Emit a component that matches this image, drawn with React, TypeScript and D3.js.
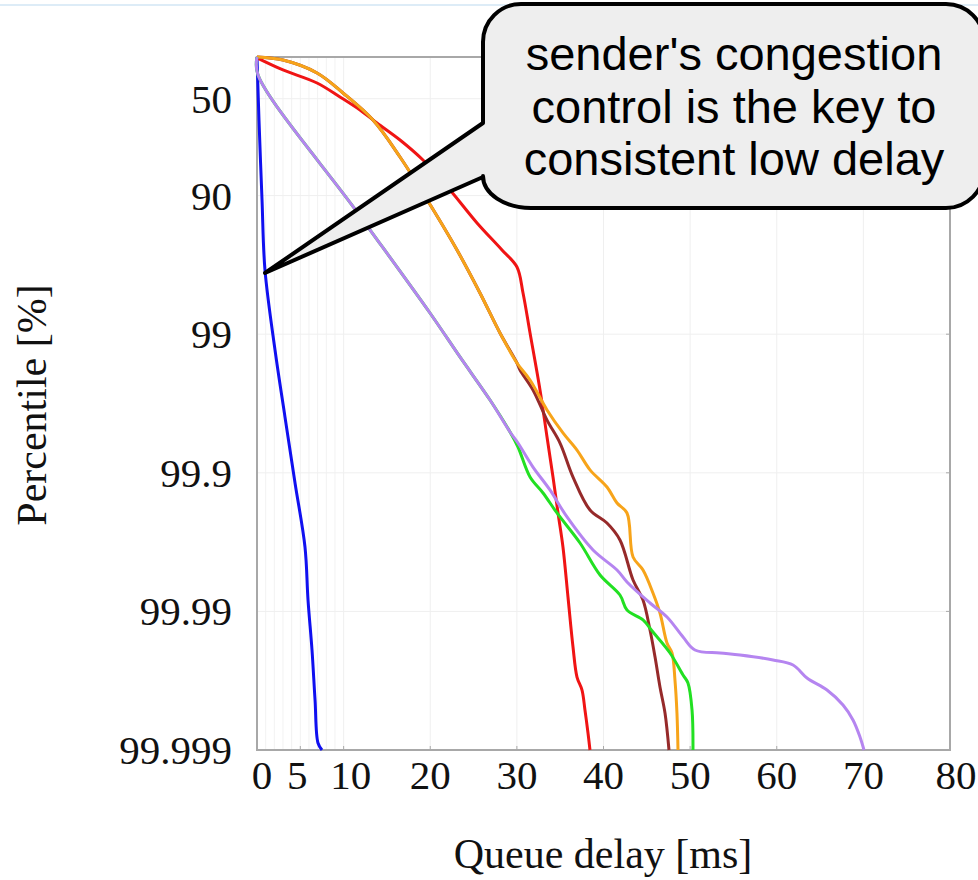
import React, { useEffect, useRef } from "react";
import * as d3 from "d3";

const W = 978;
const H = 880;

// axis ticks
const delayTicks = [0, 5, 10, 20, 30, 40, 50, 60, 70, 80];
const delayGridMajor = [10, 20, 30, 40, 50, 60, 70];
const delayGridMinor = [1, 2, 3, 4, 5, 6, 7, 8, 9];
const percentileTicks = [50, 90, 99, 99.9, 99.99, 99.999];
const percentileLabels = ["50", "90", "99", "99.9", "99.99", "99.999"];

// series: [queue delay ms, percentile %]
const blueSeries: [number, number][] = [
  [0, 0], [0.23, 64.9], [0.58, 90.7], [0.92, 97.09], [2.08, 99.231], [3.23, 99.747],
  [4.39, 99.9156], [5.54, 99.97085], [5.89, 99.98792], [6.35, 99.994734],
  [6.7, 99.997704], [7.04, 99.998877], [7.5, 99.999],
];
const redSeries: [number, number][] = [
  [0, 1.5], [3.0, 19.4], [6.93, 35.05], [9.58, 48.56], [11.89, 58.55], [13.85, 66.59],
  [16.51, 74.81], [19.16, 81.94], [22.28, 89.03], [25.4, 93.657], [28.28, 95.95],
  [30.01, 96.947], [30.71, 98.017], [31.52, 98.98], [32.67, 99.604], [33.48, 99.8187],
  [34.17, 99.9068], [34.75, 99.9487], [35.32, 99.97085], [35.9, 99.9873],
  [36.48, 99.994465], [36.94, 99.996638], [37.52, 99.997291], [37.86, 99.998056],
  [38.21, 99.998673], [38.44, 99.999],
];
const brownSeries: [number, number][] = [
  [0, 0], [3.0, 4.9], [6.93, 23.3], [9.93, 45.0], [13.39, 64.9], [16.51, 81.01],
  [19.16, 89.56], [23.09, 95.95], [25.74, 98.017], [28.05, 98.98], [30.01, 99.38],
  [30.36, 99.448], [31.86, 99.604], [33.48, 99.76], [34.98, 99.836], [36.48, 99.9068],
  [38.44, 99.94609], [40.4, 99.95657], [41.9, 99.96725], [43.41, 99.98315],
  [44.56, 99.98792], [45.37, 99.992658], [45.95, 99.995312], [46.52, 99.997153],
  [47.1, 99.998151], [47.56, 99.999],
];
const orangeSeries: [number, number][] = [
  [0, 0], [3.0, 4.9], [6.93, 23.3], [9.93, 45.0], [13.39, 64.9], [16.51, 81.01],
  [19.16, 89.56], [23.09, 95.95], [25.74, 98.017], [28.05, 98.98], [30.01, 99.38],
  [31.52, 99.533], [33.48, 99.716], [35.32, 99.806], [36.94, 99.854], [38.44, 99.895],
  [40.4, 99.921], [41.56, 99.93946], [42.71, 99.9487], [43.41, 99.97531],
  [44.56, 99.98011], [45.71, 99.98642], [46.52, 99.990261], [47.33, 99.994084],
  [47.91, 99.994989], [48.25, 99.996801], [48.48, 99.998151], [48.6, 99.999],
];
const greenSeries: [number, number][] = [
  [0, 0], [0.12, 25.9], [11.6, 92.45], [19.97, 98.578], [23.43, 99.315], [26.9, 99.665],
  [29.21, 99.803], [30.13, 99.8465], [31.52, 99.9068], [33.02, 99.92852],
  [34.63, 99.9487], [37.29, 99.96885], [39.6, 99.98169], [41.9, 99.98687],
  [42.71, 99.98977], [44.56, 99.99133], [45.71, 99.992899], [47.68, 99.994989],
  [49.18, 99.996524], [49.75, 99.996955], [50.22, 99.998056], [50.33, 99.999],
];
const purpleSeries: [number, number][] = [
  [0, 0], [0.12, 25.9], [11.6, 92.45], [19.97, 98.578], [23.43, 99.315], [26.9, 99.665],
  [29.21, 99.803], [30.13, 99.836], [31.86, 99.89], [33.82, 99.9248], [35.79, 99.952],
  [38.79, 99.97227], [41.56, 99.98011], [42.71, 99.9837], [45.37, 99.988503],
  [47.33, 99.990888], [49.18, 99.993464], [50.56, 99.994734], [53.45, 99.994989],
  [55.76, 99.995154], [59.57, 99.995539], [61.88, 99.995895], [63.49, 99.996693],
  [65.8, 99.997291], [67.65, 99.997888], [68.8, 99.998354], [69.61, 99.998759],
  [70.07, 99.999],
];

const seriesList = [
  { name: "blue", data: blueSeries, color: "#1010f0" },
  { name: "red", data: redSeries, color: "#f01414" },
  { name: "brown", data: brownSeries, color: "#962a2a" },
  { name: "orange", data: orangeSeries, color: "#f7a41a" },
  { name: "green", data: greenSeries, color: "#22e022" },
  { name: "purple", data: purpleSeries, color: "#b585f0" },
];

const calloutLines = ["sender's congestion", "control is the key to", "consistent low delay"];

const yLabel = "Percentile [%]";
const xLabel = "Queue delay [ms]";

const SERIF = "'Liberation Serif', 'Times New Roman', serif";
const SANS = "'Liberation Sans', Arial, sans-serif";

export default function App() {
  const ref = useRef<SVGSVGElement>(null);

  useEffect(() => {
    const svg = d3.select(ref.current);
    svg.selectAll("*").remove();

    const left = 257, right = 950, top = 57, bottom = 750;
    const x = d3.scaleLinear().domain([0, 80]).range([left, right]);
    const y = d3.scaleLog().domain([100, 0.001]).range([top, bottom]);
    const yp = (p: number) => y(100 - p);

    svg.append("rect").attr("width", W).attr("height", H).attr("fill", "#fff");

    // slide header remnant line
    svg.append("line").attr("x1", 0).attr("x2", W).attr("y1", 5).attr("y2", 5)
      .attr("stroke", "#d2e6f4").attr("stroke-width", 1.5);

    const grid = svg.append("g");
    grid.selectAll("line.minor").data(delayGridMinor).join("line")
      .attr("x1", (d) => x(d)).attr("x2", (d) => x(d)).attr("y1", top).attr("y2", bottom)
      .attr("stroke", "#f2f2f2").attr("stroke-width", 1);
    grid.selectAll("line.major").data(delayGridMajor).join("line")
      .attr("x1", (d) => x(d)).attr("x2", (d) => x(d)).attr("y1", top).attr("y2", bottom)
      .attr("stroke", "#efefef").attr("stroke-width", 1);
    grid.selectAll("line.h").data(percentileTicks.slice(0, -1)).join("line")
      .attr("x1", left).attr("x2", right).attr("y1", (d) => yp(d)).attr("y2", (d) => yp(d))
      .attr("stroke", "#efefef").attr("stroke-width", 1);

    // ticks
    const tk = svg.append("g").attr("stroke", "#aaa").attr("stroke-width", 1);
    tk.selectAll("line.xt").data(delayTicks).join("line")
      .attr("x1", (d) => x(d)).attr("x2", (d) => x(d)).attr("y1", bottom).attr("y2", bottom - 4);
    tk.selectAll("line.yt").data(percentileTicks).join("line")
      .attr("x1", right).attr("x2", right - 4).attr("y1", (d) => yp(d)).attr("y2", (d) => yp(d));

    // frame
    svg.append("rect").attr("x", left).attr("y", top).attr("width", right - left)
      .attr("height", bottom - top).attr("fill", "none").attr("stroke", "#a8a8a8").attr("stroke-width", 2);

    // curves
    const line = d3.line<[number, number]>()
      .x((d) => x(d[0])).y((d) => yp(d[1]))
      .curve(d3.curveCatmullRom.alpha(0.5));
    const g = svg.append("g");
    seriesList.forEach((s) => {
      g.append("path").attr("d", line(s.data) as string).attr("fill", "none")
        .attr("stroke", s.color).attr("stroke-width", 3).attr("stroke-linejoin", "round");
    });

    // y tick labels
    svg.append("g").selectAll("text").data(percentileTicks).join("text")
      .attr("x", 232).attr("y", (d) => yp(d) + 14)
      .attr("text-anchor", "end").attr("font-family", SERIF).attr("font-size", 41)
      .attr("fill", "#111").text((d, i) => percentileLabels[i]);

    // x tick labels
    const nudge: Record<number, number> = { 0: 5, 5: -3, 10: 7 };
    svg.append("g").selectAll("text").data(delayTicks).join("text")
      .attr("x", (d) => x(d) + (nudge[d] || 0) + (d === 80 ? 6 : 0)).attr("y", 789)
      .attr("text-anchor", "middle").attr("font-family", SERIF).attr("font-size", 41)
      .attr("fill", "#111").text((d) => String(d));

    // axis titles
    svg.append("text").attr("x", 603).attr("y", 868).attr("text-anchor", "middle")
      .attr("font-family", SERIF).attr("font-size", 42).attr("fill", "#111").text(xLabel);
    svg.append("text").attr("transform", "translate(46,405) rotate(-90)").attr("text-anchor", "middle")
      .attr("font-family", SERIF).attr("font-size", 42).attr("fill", "#111").text(yLabel);

    // callout
    const L = 483, R = 984, T = 4, B = 208, r = 38;
    const tip = [265, 273];
    const p = `M${L},${T + r} A${r},${r} 0 0 1 ${L + r},${T} L${R - r},${T} A${r},${r} 0 0 1 ${R},${T + r}` +
      ` L${R},${B - r} A${r},${r} 0 0 1 ${R - r},${B} L${L + r + 10},${B} A${r + 10},${r - 6} 0 0 1 ${L},${B - r + 6}` +
      ` L${L},177 L${tip[0]},${tip[1]} L${L},123 Z`;
    svg.append("path").attr("d", p).attr("fill", "#eeeeee").attr("stroke", "#000")
      .attr("stroke-width", 4).attr("stroke-linejoin", "round");
    svg.append("g").selectAll("text").data(calloutLines).join("text")
      .attr("x", 734).attr("y", (d, i) => 70 + i * 52.5).attr("text-anchor", "middle")
      .attr("font-family", SANS).attr("font-size", 47).attr("fill", "#000").text((d) => d);
  }, []);

  return (
    <svg ref={ref} width={W} height={H}
      style={{ position: "absolute", left: 0, top: 0, display: "block" }} />
  );
}
